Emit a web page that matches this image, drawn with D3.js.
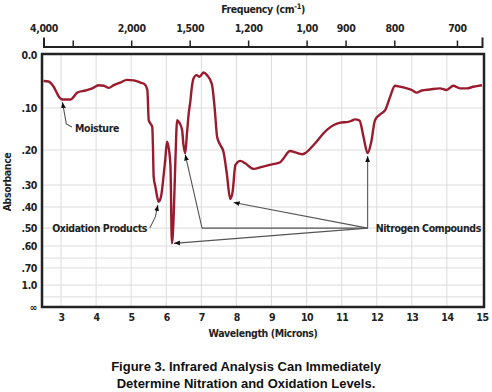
<!DOCTYPE html>
<html>
<head>
<meta charset="utf-8">
<script src="https://cdn.jsdelivr.net/npm/d3@7"></script>
<style>
  html, body { margin: 0; padding: 0; background: #fff; }
  svg { display: block; }
  .cf { font-family: 'DejaVu Sans Condensed', 'DejaVu Sans', sans-serif; font-stretch: condensed; font-weight: bold; fill: #222; letter-spacing: -0.4px; }
</style>
</head>
<body>
<svg id="chart" width="492" height="392"></svg>
<script>
// ---------------- DATA ----------------
const wavelengths = [2.5, 2.64, 2.79, 2.94, 3.03, 3.27, 3.36, 3.46, 3.70, 3.89, 4.07, 4.22, 4.36, 4.50, 4.69, 4.88, 5.07, 5.26, 5.38, 5.46,
  5.50, 5.60, 5.62, 5.64, 5.69, 5.74, 5.78, 5.85, 5.93, 5.97, 6.02, 6.07, 6.12, 6.16, 6.21, 6.26, 6.31, 6.38, 6.45, 6.49,
  6.54, 6.59, 6.64, 6.69, 6.73, 6.78, 6.86, 6.95, 7.06, 7.16, 7.30, 7.38, 7.45, 7.54, 7.63, 7.73, 7.82, 7.89, 7.97, 8.11,
  8.25, 8.49, 8.73, 9.01, 9.25, 9.34, 9.53, 9.68, 9.87, 9.96, 10.20, 10.58, 10.96, 11.19, 11.29, 11.38, 11.51, 11.62, 11.74, 11.84,
  11.95, 12.10, 12.24, 12.38, 12.52, 12.67, 12.86, 13.00, 13.14, 13.28, 13.52, 13.80, 13.99, 14.18, 14.37, 14.56, 14.75, 15.0];
const absorbance = [0.049, 0.050, 0.060, 0.079, 0.084, 0.084, 0.079, 0.071, 0.067, 0.063, 0.057, 0.058, 0.062, 0.057, 0.052, 0.047, 0.048, 0.052, 0.055, 0.066,
  0.129, 0.145, 0.192, 0.276, 0.308, 0.353, 0.376, 0.353, 0.267, 0.229, 0.180, 0.196, 0.248, 0.585, 0.446, 0.229, 0.129, 0.136, 0.152, 0.188,
  0.209, 0.160, 0.113, 0.085, 0.060, 0.044, 0.038, 0.041, 0.033, 0.038, 0.055, 0.101, 0.169, 0.188, 0.205, 0.271, 0.364, 0.332, 0.243, 0.231,
  0.238, 0.254, 0.248, 0.241, 0.235, 0.224, 0.203, 0.207, 0.212, 0.209, 0.188, 0.152, 0.135, 0.133, 0.130, 0.127, 0.130, 0.168, 0.209, 0.182,
  0.129, 0.115, 0.105, 0.079, 0.058, 0.060, 0.063, 0.066, 0.071, 0.067, 0.065, 0.063, 0.066, 0.058, 0.063, 0.063, 0.060, 0.057];

const wavelengthTicks = [3, 4, 5, 6, 7, 8, 9, 10, 11, 12, 13, 14, 15];
const frequencyTicks = [4000, 3000, 2000, 1500, 1200, 1000, 900, 800, 700];
const frequencyLabels = ["4,000", "", "2,000", "1,500", "1,200", "1,00", "900", "800", "700"];
const absorbanceTicks = [0, 0.1, 0.2, 0.3, 0.4, 0.5, 0.6, 0.7, 1.0, 2.0]; // 2.0 stands for infinity
const absorbanceLabels = ["0.0", ".10", ".20", ".30", ".40", ".50", ".60", ".70", "1.0", "\u221E"];
const minorGrid = [0.655, 1.54];

// annotations: label, text anchor point (wavelength, absorbance), leader paths ending at arrow tips
const annotations = [
  { text: "Moisture", at: [3.40, 0.148], anchor: "start",
    leaders: [[[3.31, 0.145], [3.15, 0.138], [3.04, 0.089]]] },
  { text: "Oxidation Products", at: [5.45, 0.50], anchor: "end",
    leaders: [[[5.53, 0.50], [5.69, 0.446], [5.76, 0.391]]] },
  { text: "Nitrogen Compounds", at: [11.97, 0.50], anchor: "start",
    leaders: [[[11.74, 0.50], [11.74, 0.217]],
              [[11.74, 0.50], [7.92, 0.380]],
              [[11.74, 0.50], [7.02, 0.50], [6.54, 0.213]],
              [[11.74, 0.50], [6.22, 0.585]]] }
];

// ---------------- LAYOUT ----------------
const svg = d3.select("#chart");
const box = { left: 42, right: 484, top: 54, bottom: 307 };
const plotTop = 55, plotH = 252;
const yFractions = [0, 0.2103, 0.377, 0.516, 0.603, 0.687, 0.758, 0.845, 0.913, 1];
const fs = "10.5px";

const x = d3.scaleLinear().domain([2.5, 15]).range([43.5, 482]);
const y = d3.scaleLinear().domain(absorbanceTicks).range(yFractions.map(f => plotTop + f * plotH));

// gridlines
const grid = svg.append("g").attr("stroke", "#dcdcdc").attr("stroke-width", 1);
grid.selectAll("line.v").data(wavelengthTicks.filter(d => d < 15)).join("line")
  .attr("x1", d => x(d)).attr("x2", d => x(d)).attr("y1", box.top).attr("y2", box.bottom);
grid.selectAll("line.h").data(absorbanceTicks.slice(1, -1).concat(minorGrid)).join("line")
  .attr("x1", box.left).attr("x2", box.right).attr("y1", d => y(d)).attr("y2", d => y(d));

// curve
const pts = wavelengths.map((w, i) => [w, absorbance[i]]);
svg.append("path").datum(pts)
  .attr("fill", "none").attr("stroke", "#9a1b2e").attr("stroke-width", 2.4).attr("stroke-linejoin", "round")
  .attr("d", d3.line().x(d => x(d[0])).y(d => y(d[1])).curve(d3.curveMonotoneX));

// frame
svg.append("rect").attr("x", box.left).attr("y", box.top)
  .attr("width", box.right - box.left).attr("height", box.bottom - box.top)
  .attr("fill", "none").attr("stroke", "#222").attr("stroke-width", 2.5);

// top (frequency) axis
const topAxis = d3.axisTop(x)
  .tickValues(frequencyTicks.map(f => 10000 / f))
  .tickFormat((d, i) => frequencyLabels[i])
  .tickSizeInner(6).tickSizeOuter(9).tickPadding(9);
const gTop = svg.append("g").attr("transform", "translate(0,46.5)").call(topAxis);
gTop.select(".domain").attr("stroke", "#222").attr("stroke-width", 2);
gTop.selectAll(".tick line").attr("stroke", "#222").attr("stroke-width", 1.5);
gTop.selectAll(".tick text").attr("class", "cf").style("font-size", fs);

svg.append("text").attr("class", "cf").attr("x", 263).attr("y", 13)
  .attr("text-anchor", "middle").style("font-size", fs)
  .call(t => {
    t.append("tspan").text("Frequency (cm");
    t.append("tspan").text("-1").attr("dy", -4).style("font-size", "7.5px");
    t.append("tspan").text(")").attr("dy", 4);
  });

// bottom (wavelength) axis
const bottomAxis = d3.axisBottom(x).tickValues(wavelengthTicks).tickFormat(d3.format("d"))
  .tickSize(0).tickPadding(7);
const gBot = svg.append("g").attr("transform", `translate(0,${box.bottom})`).call(bottomAxis);
gBot.select(".domain").remove();
gBot.selectAll(".tick text").attr("class", "cf").style("font-size", fs);
svg.append("text").attr("class", "cf").attr("x", 263).attr("y", 337)
  .attr("text-anchor", "middle").style("font-size", fs).text("Wavelength (Microns)");

// left (absorbance) axis
const leftAxis = d3.axisLeft(y).tickValues(absorbanceTicks)
  .tickFormat((d, i) => absorbanceLabels[i]).tickSize(0).tickPadding(5);
const gLeft = svg.append("g").attr("transform", `translate(${box.left},0)`).call(leftAxis);
gLeft.select(".domain").remove();
gLeft.selectAll(".tick text").attr("class", "cf").style("font-size", fs);
svg.append("text").attr("class", "cf").attr("transform", "translate(11,182) rotate(-90)")
  .attr("text-anchor", "middle").style("font-size", fs).text("Absorbance");

// annotations
const defs = svg.append("defs");
defs.append("marker").attr("id", "arr").attr("viewBox", "0 0 10 10").attr("refX", 10).attr("refY", 5)
  .attr("markerWidth", 6).attr("markerHeight", 6).attr("markerUnits", "userSpaceOnUse")
  .attr("orient", "auto")
  .append("path").attr("d", "M0,1 L10,5 L0,9 Z").attr("fill", "#111");

const ann = svg.append("g");
annotations.forEach(a => {
  a.leaders.forEach(l => {
    ann.append("path").datum(l)
      .attr("fill", "none").attr("stroke", "#555").attr("stroke-width", 1.1)
      .attr("marker-end", "url(#arr)")
      .attr("d", d3.line().x(d => x(d[0])).y(d => y(d[1])));
  });
  ann.append("text").attr("class", "cf").attr("x", x(a.at[0])).attr("y", y(a.at[1]))
    .attr("dy", "0.35em").attr("text-anchor", a.anchor).style("font-size", fs).text(a.text);
});

// caption
const cap = svg.append("text").attr("text-anchor", "middle")
  .style("font-family", "'Liberation Sans', Arial, sans-serif").style("font-weight", "bold")
  .style("font-size", "13px").attr("fill", "#111");
cap.append("tspan").attr("x", 246).attr("y", 371).text("Figure 3. Infrared Analysis Can Immediately");
cap.append("tspan").attr("x", 246).attr("y", 388).text("Determine Nitration and Oxidation Levels.");
</script>
</body>
</html>
